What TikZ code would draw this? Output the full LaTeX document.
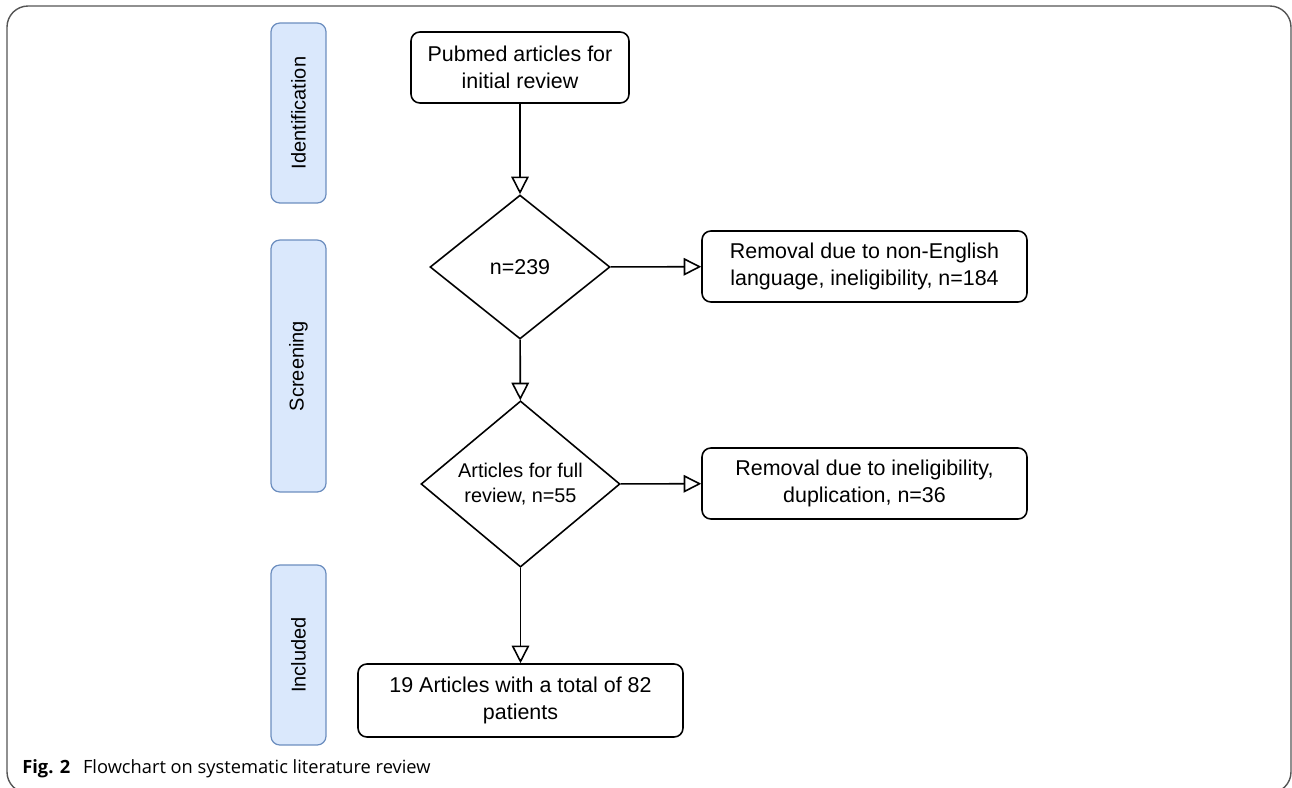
\documentclass[tikz,border=0pt]{standalone}
\usepackage{fontspec}
\setmainfont{Liberation Sans}
\newfontfamily\capfont{Open Sans}
\usepackage{xcolor}
\usetikzlibrary{positioning,arrows.meta,shapes.geometric}
\definecolor{lanefill}{HTML}{DAE8FC}
\definecolor{laneline}{HTML}{6C8EBF}
\definecolor{framegray}{HTML}{555555}

\begin{document}
\begin{tikzpicture}[x=0.02cm, y=-0.02cm,
  lane/.style={draw=laneline, fill=lanefill, rounded corners=5pt, rotate=90,
               minimum height=1.1cm, line width=0.7pt, font=\fontsize{11.4}{13}\selectfont},
  proc/.style={draw, rounded corners=5pt, align=center, line width=0.9pt,
               minimum width=6.5cm, minimum height=1.42cm,
               font=\fontsize{12.2}{15.3}\selectfont},
  dec/.style={draw, diamond, align=center, inner sep=0pt, line width=0.9pt},
  arr/.style={-{Triangle[open, length=10pt, width=10pt, fill=white]}, line width=0.9pt}
]
\useasboundingbox (0,0) rectangle (1292,788);
% frame
\draw[framegray, line width=0.8pt, rounded corners=12pt] (7,6) rectangle (1291,793);

% lanes
\node[lane, minimum width=3.6cm] (ident) at (298.5,113) {Identification};
\node[lane, minimum width=5.04cm] (screen) at (298.5,366) {Screening};
\node[lane, minimum width=3.6cm] (incl) at (298.5,655) {Included};

% flow
\node[proc, minimum width=4.36cm] (pub) at (520,67.5) {Pubmed articles for\\initial review};
\node[dec, minimum width=3.6cm, minimum height=2.88cm,
      font=\fontsize{12.2}{15.3}\selectfont] (d1) at (520,267) {n=239};
\node[proc] (rem1) at (864.5,266.5) {Removal due to non-English\\language, ineligibility, n=184};
\node[dec, minimum width=3.98cm, minimum height=3.24cm,
      font=\fontsize{11.3}{14}\selectfont] (d2) at (520.5,484) {Articles for full\\review, n=55};
\node[proc] (rem2) at (864.5,483.5) {Removal due to ineligibility,\\duplication, n=36};
\node[proc, minimum height=1.46cm] (res) at (520.5,700.5) {19 Articles with a total of 82\\patients};

\draw[arr] (pub) -- (d1);
\draw[arr] (d1) -- (rem1);
\draw[arr] (d1) -- (d2);
\draw[arr] (d2) -- (rem2);
\draw[arr] (d2) -- (res);

% caption
\node[anchor=base west, inner sep=0pt, font=\capfont\fontsize{10.4}{12}\selectfont] (cap) at (22,773)
  {\textbf{Fig. 2}\hspace{0.7em}Flowchart on systematic literature review};
\end{tikzpicture}
\end{document}
